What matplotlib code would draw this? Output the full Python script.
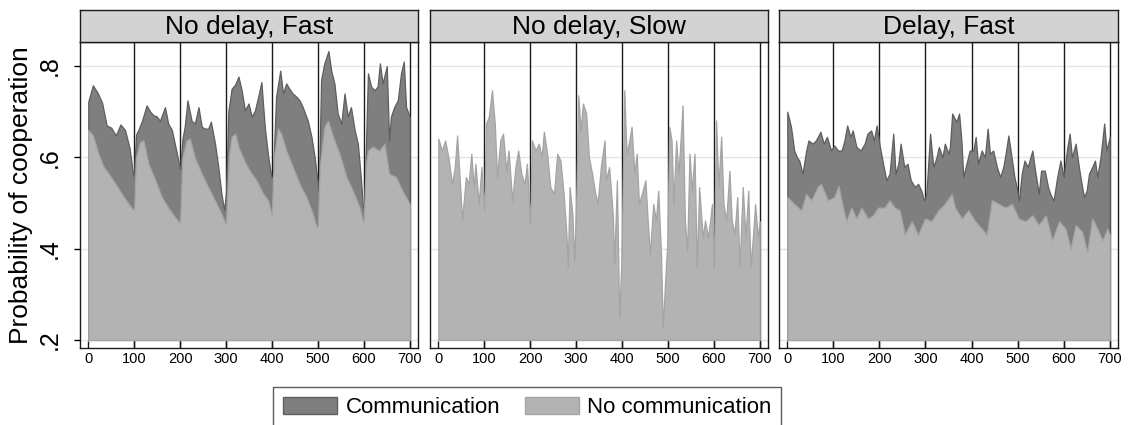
import matplotlib
matplotlib.use("Agg")
import matplotlib.pyplot as plt
from matplotlib.patches import Patch

plt.rcParams["font.family"] = ["Liberation Sans", "DejaVu Sans"]

# ---- data (period, probability of cooperation) ----
titles = ["No delay, Fast", "No delay, Slow", "Delay, Fast"]
legend_labels = ["Communication", "No communication"]
xticks = [0, 100, 200, 300, 400, 500, 600, 700]
yticks = [0.2, 0.4, 0.6, 0.8]
ytick_labels = [".2", ".4", ".6", ".8"]
match_breaks = [100, 200, 300, 400, 500, 600, 700]

fast_comm_x = [0, 10, 20, 30, 40, 50, 60, 70, 80, 90, 98,
               100, 104, 109, 117, 127, 135, 142, 149, 156, 167, 174, 182, 193, 198,
               200, 205, 210, 216, 225, 232, 240, 247, 254, 261, 267, 276, 283, 290, 296,
               300, 305, 312, 320, 327, 334, 341, 349, 356, 363, 370, 377, 381, 385, 392, 399,
               402, 409, 418, 424, 431, 438, 445, 453, 460, 467, 478, 486, 493, 499,
               502, 507, 514, 523, 529, 536, 543, 551, 558, 565, 572, 580, 587, 594, 598,
               601, 609, 616, 623, 630, 635, 641, 650, 655, 659, 666, 674, 681, 687, 692, 700]
fast_comm_y = [.722, .758, .742, .72, .67, .665, .648, .672, .66, .62, .56,
               .57, .65, .66, .68, .714, .70, .692, .69, .68, .71, .674, .66, .608, .582,
               .575, .64, .667, .725, .68, .674, .71, .667, .663, .663, .678, .63, .58, .52, .484,
               .524, .70, .75, .76, .777, .747, .703, .718, .689, .703, .733, .765, .71, .66, .60, .557,
               .557, .733, .79, .74, .762, .75, .74, .733, .725, .71, .68, .645, .60, .55,
               .527, .77, .806, .833, .79, .762, .696, .674, .74, .69, .71, .66, .63, .55, .49,
               .49, .784, .755, .747, .755, .806, .762, .80, .637, .689, .71, .725, .784, .81, .71, .689]

fast_nocomm_x = [0, 10, 22, 33, 44, 59, 73, 88, 98,
                 100, 104, 113, 120, 131, 146, 160, 174, 189, 198,
                 200, 205, 214, 221, 232, 247, 261, 276, 290, 299,
                 300, 306, 312, 320, 327, 341, 352, 366, 381, 392, 399,
                 400, 404, 413, 420, 431, 445, 460, 475, 489, 497,
                 500, 504, 514, 522, 533, 547, 562, 576, 591, 598,
                 600, 604, 609, 619, 634, 645, 655, 670, 684, 700]
fast_nocomm_y = [.66, .648, .608, .58, .565, .542, .52, .498, .484,
                 .49, .60, .634, .637, .586, .55, .513, .49, .469, .458,
                 .46, .60, .637, .641, .60, .564, .535, .505, .476, .454,
                 .455, .60, .645, .652, .623, .59, .57, .55, .52, .505, .476,
                 .48, .60, .663, .652, .615, .58, .542, .513, .476, .447,
                 .45, .58, .667, .68, .645, .608, .557, .527, .49, .46,
                 .46, .58, .615, .623, .615, .63, .564, .557, .527, .498]

slow_nocomm_x = [0, 8, 15, 22, 30, 36, 41, 46, 52, 60, 66, 72, 77, 81, 88, 94, 100,
                 104, 110, 117, 123, 128, 135, 141, 148, 153, 161, 168, 174, 181, 188, 193, 200,
                 204, 212, 219, 225, 230, 237, 244, 252, 259, 266, 273, 279, 282, 286, 292, 296, 300,
                 305, 310, 315, 322, 328, 335, 342, 347, 354, 362, 365, 372, 380, 383, 389, 394, 399,
                 405, 410, 416, 421, 427, 432, 437, 445, 451, 456, 461, 468, 474, 479, 485, 489, 494, 499,
                 503, 508, 512, 518, 523, 528, 532, 537, 542, 547, 552, 558, 563, 568, 576, 581, 587, 592, 596, 600,
                 605, 610, 616, 621, 627, 634, 639, 645, 651, 656, 663, 669, 675, 680, 685, 690, 696, 700]
slow_nocomm_y = [.641, .615, .637, .60, .542, .579, .648, .564, .462, .557, .542, .608, .535, .586, .498, .579, .484,
                 .674, .689, .747, .674, .557, .637, .652, .571, .615, .505, .579, .615, .564, .542, .586, .454,
                 .637, .615, .63, .60, .656, .608, .535, .52, .608, .593, .52, .432, .359, .535, .476, .374, .49,
                 .736, .659, .718, .696, .60, .564, .52, .50, .579, .637, .55, .579, .476, .366, .55, .249, .38,
                 .747, .608, .637, .667, .564, .608, .498, .527, .55, .462, .388, .498, .462, .527, .388, .227, .33, .418,
                 .667, .637, .498, .637, .564, .645, .714, .462, .396, .608, .527, .608, .359, .535, .425, .462, .425, .462, .498, .359,
                 .681, .535, .645, .498, .462, .571, .462, .432, .513, .359, .535, .425, .527, .359, .425, .498, .425, .46]

delay_comm_x = [0, 8, 15, 21, 26, 33, 41, 46, 55, 62, 72, 79, 86, 95,
                102, 110, 118, 124, 130, 137, 142, 150, 159, 168, 174, 182, 188, 194,
                201, 208, 215, 222, 230, 235, 241, 246, 254, 261, 268, 277, 284, 291, 297,
                302, 310, 317, 324, 329, 337, 342, 350, 353, 358, 367, 373, 378, 382, 389, 396,
                404, 409, 414, 422, 429, 435, 440, 447, 455, 462, 469, 474, 480, 487, 493, 498,
                503, 509, 515, 522, 527, 532, 538, 546, 551, 559, 566, 571, 578, 586, 593,
                600, 607, 613, 618, 626, 633, 639, 644, 650, 655, 662, 668, 673, 680, 688, 693, 700]
delay_comm_y = [.70, .667, .615, .60, .593, .564, .615, .637, .63, .637, .656, .63, .645, .615,
                .626, .615, .615, .637, .67, .645, .659, .623, .615, .63, .652, .659, .637, .67,
                .623, .586, .55, .564, .652, .564, .586, .63, .579, .586, .55, .535, .542, .527, .505,
                .52, .652, .579, .60, .623, .60, .63, .608, .623, .696, .678, .696, .637, .557, .586, .615,
                .615, .645, .586, .615, .60, .663, .608, .615, .579, .557, .579, .608, .648, .60, .557, .535,
                .505, .564, .593, .579, .597, .615, .571, .52, .571, .571, .535, .52, .505, .557, .593,
                .557, .615, .652, .60, .63, .579, .542, .513, .527, .564, .579, .593, .557, .60, .674, .615, .645]

delay_nocomm_x = [0, 15, 30, 41, 52, 66, 73, 88, 102, 111, 121, 128, 139, 150, 161, 175, 186, 197,
                  211, 222, 233, 244, 255, 270, 284, 299, 313, 328, 342, 357, 364, 379, 393,
                  408, 422, 433, 444, 459, 473, 488, 502, 517, 532, 546, 561, 575, 590,
                  604, 615, 626, 640, 651, 662, 673, 684, 695, 700]
delay_nocomm_y = [.513, .498, .484, .52, .506, .535, .542, .506, .513, .538, .49, .46, .49, .466, .49, .466, .473, .49,
                  .49, .506, .49, .484, .43, .46, .43, .466, .46, .484, .498, .52, .49, .466, .484,
                  .46, .444, .43, .506, .498, .49, .498, .466, .46, .473, .452, .473, .418, .46,
                  .444, .40, .452, .437, .392, .466, .444, .418, .444, .43]

panels = [
    (fast_comm_x, fast_comm_y, fast_nocomm_x, fast_nocomm_y),
    (None, None, slow_nocomm_x, slow_nocomm_y),
    (delay_comm_x, delay_comm_y, delay_nocomm_x, delay_nocomm_y),
]

# ---- styling ----
comm_fill, comm_edge = "#7f7f7f", "#5e5e5e"
nocomm_fill, nocomm_edge = "#b3b3b3", "#a4a4a4"
W, H = 1129, 425
frames = [(80, 418), (430, 768), (779, 1118)]
plot_top, plot_bottom, strip_top = 42, 348, 10

fig = plt.figure(figsize=(W / 100, H / 100), dpi=100)

for i, ((l, r), (cx, cy, nx, ny)) in enumerate(zip(frames, panels)):
    ax = fig.add_axes([l / W, 1 - plot_bottom / H, (r - l) / W, (plot_bottom - plot_top) / H])
    ax.set_xlim(-18, 718)
    ax.set_ylim(0.1824, 0.8527)
    for yv in yticks:
        ax.axhline(yv, color="#e4e4e4", lw=1, zorder=0)
    for xv in match_breaks:
        ax.axvline(xv, color="#1a1a1a", lw=1, zorder=1)
    if cx is not None:
        ax.fill_between(cx, 0.2, cy, facecolor=comm_fill, edgecolor=comm_edge, lw=0.9, zorder=2)
    ax.fill_between(nx, 0.2, ny, facecolor=nocomm_fill, edgecolor=nocomm_edge, lw=0.9, zorder=3)

    ax.set_xticks(xticks)
    ax.tick_params(axis="x", direction="in", length=5, width=1, pad=3, labelsize=10.5, color="#1a1a1a")
    ax.set_yticks(yticks)
    if i == 0:
        ax.set_yticklabels(ytick_labels)
        ax.tick_params(axis="y", direction="out", length=4, width=1, pad=9, labelsize=18, labelrotation=90)
        for lab in ax.get_yticklabels():
            lab.set_va("center")
    else:
        ax.tick_params(axis="y", length=0, labelleft=False)
    for s in ax.spines.values():
        s.set_color("#1a1a1a")
        s.set_linewidth(1)

    # strip title
    st = fig.add_axes([l / W, 1 - plot_top / H, (r - l) / W, (plot_top - strip_top) / H])
    st.set_facecolor("#d3d3d3")
    st.set_xticks([])
    st.set_yticks([])
    for s in st.spines.values():
        s.set_color("#1a1a1a")
        s.set_linewidth(1)
    st.text(0.5, 0.48, titles[i], ha="center", va="center", fontsize=19, transform=st.transAxes)

fig.text(21 / W, 1 - 195 / H, "Probability of cooperation", rotation=90,
         ha="center", va="center", fontsize=19)

handles = [Patch(facecolor=comm_fill, edgecolor=comm_edge, lw=1),
           Patch(facecolor=nocomm_fill, edgecolor=nocomm_edge, lw=1)]
leg = fig.legend(handles, legend_labels, loc="upper left", bbox_to_anchor=(273 / W, 1 - 387 / H),
                 ncol=2, fontsize=16, frameon=True, fancybox=False, handlelength=2.45,
                 handleheight=0.77, handletextpad=0.36, columnspacing=1.1, borderpad=0.45,
                 borderaxespad=0)
leg.get_frame().set_edgecolor("#333333")
leg.get_frame().set_linewidth(1)

fig.savefig("out.png", dpi=100)
